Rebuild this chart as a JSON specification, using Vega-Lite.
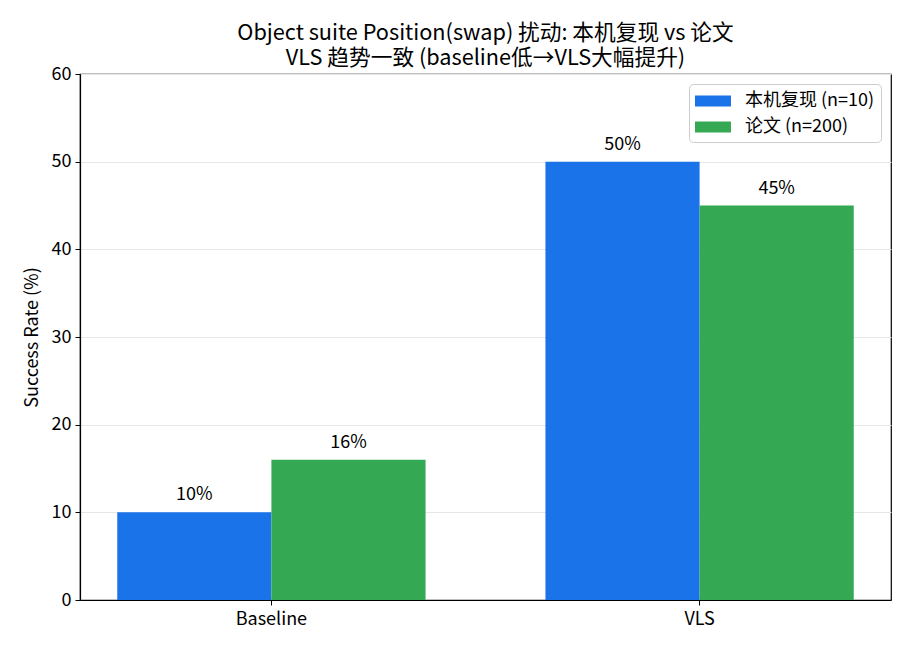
{
  "$schema": "https://vega.github.io/schema/vega-lite/v6.json",
  "autosize": "none",
  "width": 811,
  "height": 526,
  "padding": {"left": 80, "top": 74, "right": 19, "bottom": 50},
  "background": "white",
  "config": {
    "font": "Noto Sans CJK SC",
    "view": {"stroke": "black", "strokeWidth": 1.2},
    "axis": {"labelFont": "Noto Sans CJK SC", "titleFont": "Noto Sans CJK SC", "labelFontSize": 18, "titleFontSize": 18, "labelColor": "black", "titleColor": "black", "titleFontWeight": "normal", "domainColor": "black", "tickColor": "black", "tickSize": 5, "domainWidth": 1.2}
  },
  "title": {
    "text": ["Object suite Position(swap) 扰动: 本机复现 vs 论文", "VLS 趋势一致 (baseline低→VLS大幅提升)"],
    "font": "Noto Sans CJK SC",
    "fontSize": 21.7,
    "fontWeight": "normal",
    "color": "black",
    "anchor": "middle",
    "frame": "group",
    "offset": -5,
    "lineHeight": 25.5
  },
  "data": {
    "values": [
      {"method": "Baseline", "source": "本机复现 (n=10)", "rate": 10, "label": "10%"},
      {"method": "Baseline", "source": "论文 (n=200)", "rate": 16, "label": "16%"},
      {"method": "VLS", "source": "本机复现 (n=10)", "rate": 50, "label": "50%"},
      {"method": "VLS", "source": "论文 (n=200)", "rate": 45, "label": "45%"}
    ]
  },
  "encoding": {
    "x": {"field": "method", "type": "nominal", "sort": ["Baseline", "VLS"], "scale": {"paddingInner": 0.28, "paddingOuter": 0.087}, "axis": {"title": null, "labelAngle": 0, "grid": false, "labelPadding": 5}},
    "xOffset": {"field": "source", "type": "nominal", "sort": ["本机复现 (n=10)", "论文 (n=200)"], "scale": {"paddingInner": 0, "paddingOuter": 0}},
    "y": {"field": "rate", "type": "quantitative", "scale": {"domain": [0, 60]}, "axis": {"title": "Success Rate (%)", "values": [0, 10, 20, 30, 40, 50, 60], "grid": true, "gridColor": "#e6e6e6", "gridWidth": 1, "titlePadding": 10, "labelPadding": 4}}
  },
  "layer": [
    {
      "mark": {"type": "bar"},
      "encoding": {
        "color": {"field": "source", "type": "nominal", "sort": ["本机复现 (n=10)", "论文 (n=200)"], "scale": {"range": ["#1a73e8", "#34a853"]}, "legend": {"title": null, "orient": "top-right", "offset": 10, "labelFontSize": 18, "labelFont": "Noto Sans CJK SC", "labelColor": "black", "symbolType": "M-1,-0.5H2.27V0.5H-1Z", "symbolSize": 484, "symbolStrokeWidth": 0, "strokeColor": "#cccccc", "cornerRadius": 4, "padding": 6, "rowPadding": 6, "labelOffset": 28, "fillColor": "white"}}
      }
    },
    {
      "mark": {"type": "text", "dy": -8, "baseline": "bottom", "fontSize": 18, "color": "black"},
      "encoding": {
        "text": {"field": "label"}
      }
    }
  ]
}
